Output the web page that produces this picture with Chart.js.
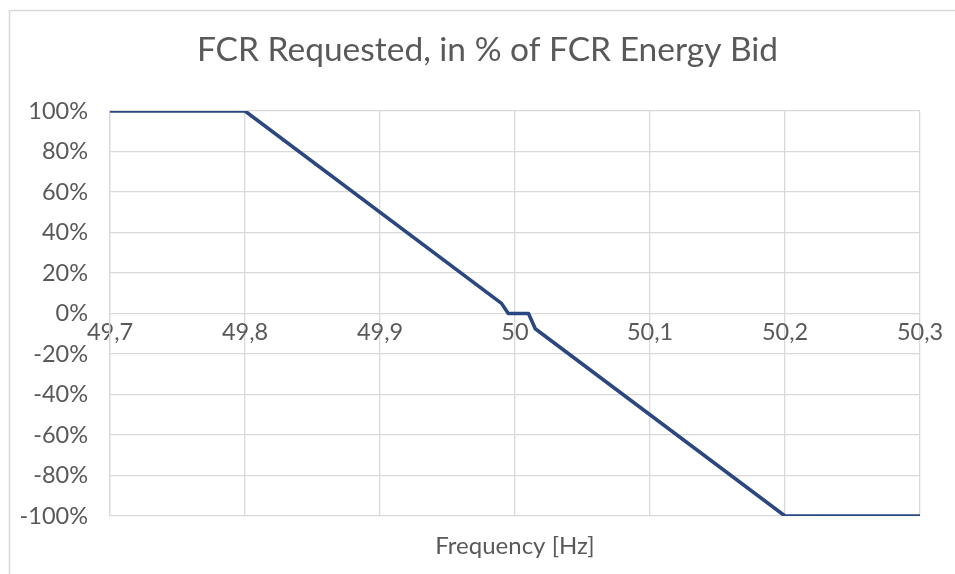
<!DOCTYPE html>
<html>
<head>
<meta charset="utf-8">
<script src="https://cdn.jsdelivr.net/npm/chart.js@4/dist/chart.umd.min.js"></script>
<style>
    html, body { margin: 0; padding: 0; background: #fff; }
    #wrap { width: 955px; height: 574px; position: relative; }
</style>
</head>
<body>
<div id="wrap"><canvas id="fcr-chart"></canvas></div>
<script>
// Chart data
const freqHz = [49.7, 49.8, 49.99, 49.995, 50.01, 50.015, 50.2, 50.3];
const fcrShare = [1, 1, 0.05, 0, 0, -0.075, -1, -1];
const xTickValues = [49.7, 49.8, 49.9, 50, 50.1, 50.2, 50.3];
const yTickValues = [-1, -0.8, -0.6, -0.4, -0.2, 0, 0.2, 0.4, 0.6, 0.8, 1];

const FONT = 'Lato, "Liberation Sans", sans-serif';
const TEXT = '#595959';
const GRID = '#d9d9d9';

// Helpers
function fmtHz(v) {
    return String(Number(v.toFixed(2))).replace('.', ',');
}
function fmtPct(v) {
    return Math.round(v * 100) + '%';
}
function setTicks(values) {
    return (scale) => { scale.ticks = values.map(v => ({ value: v })); };
}

// Light frame around the chart, like the Excel chart border
const framePlugin = {
    id: 'frame',
    beforeDraw(chart) {
        const ctx = chart.ctx;
        ctx.save();
        ctx.strokeStyle = GRID;
        ctx.lineWidth = 1.5;
        ctx.strokeRect(9.5, 10.5, 2000, 2000);
        ctx.restore();
    }
};

const points = freqHz.map((f, i) => ({ x: f, y: fcrShare[i] }));

new Chart(document.getElementById('fcr-chart'), {
    type: 'line',
    data: {
        datasets: [{
            data: points,
            borderColor: '#2B4780',
            borderWidth: 3.6,
            borderCapStyle: 'round',
            borderJoinStyle: 'round',
            pointRadius: 0,
            tension: 0,
            fill: false,
            xAxisID: 'x',
            yAxisID: 'y'
        }]
    },
    options: {
        responsive: true,
        maintainAspectRatio: false,
        animation: false,
        // left padding shifts the title centre to where Excel puts it
        layout: { padding: { left: 20, right: 0, top: 0, bottom: 0 } },
        plugins: {
            legend: { display: false },
            tooltip: { enabled: false },
            title: {
                display: true,
                text: 'FCR Requested, in % of FCR Energy Bid',
                color: TEXT,
                font: { family: FONT, size: 33.5, weight: 'normal' },
                padding: { top: 30, bottom: 40.8 }
            }
        },
        scales: {
            x: {
                type: 'linear',
                position: 'bottom',
                min: 49.7,
                max: 50.3,
                afterBuildTicks: setTicks(xTickValues),
                afterFit: (scale) => { scale.height = 58; },
                ticks: { display: false },
                grid: { color: GRID, lineWidth: 1.3, drawTicks: false },
                border: { display: false },
                title: {
                    display: true,
                    text: 'Frequency [Hz]',
                    color: TEXT,
                    font: { family: FONT, size: 24 },
                    padding: { top: 0, bottom: 13.6 }
                }
            },
            x2: {
                type: 'linear',
                position: { y: 0 },
                min: 49.7,
                max: 50.3,
                afterBuildTicks: setTicks(xTickValues),
                ticks: {
                    color: TEXT,
                    font: { family: FONT, size: 23.5 },
                    padding: 5,
                    maxRotation: 0,
                    callback: (v) => fmtHz(v)
                },
                grid: { display: false, drawTicks: false },
                border: { display: false }
            },
            y: {
                type: 'linear',
                min: -1,
                max: 1,
                afterBuildTicks: setTicks(yTickValues),
                afterFit: (scale) => { scale.width = 90; },
                ticks: {
                    color: TEXT,
                    font: { family: FONT, size: 23.5 },
                    padding: 22,
                    callback: (v) => fmtPct(v)
                },
                grid: { color: GRID, lineWidth: 1.3, drawTicks: false },
                border: { display: true, color: GRID, width: 1.3 }
            },
            // empty right-hand spacer so the plot stops where Excel's does
            yPad: {
                type: 'linear',
                position: 'right',
                min: -1,
                max: 1,
                afterFit: (scale) => { scale.width = 35; },
                ticks: { display: false },
                grid: { display: false, drawTicks: false },
                border: { display: false }
            }
        }
    },
    plugins: [framePlugin]
});
</script>
</body>
</html>
